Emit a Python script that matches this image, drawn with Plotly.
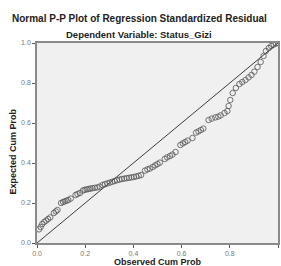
import plotly.graph_objects as go

observed = [0.008, 0.015, 0.022, 0.030, 0.038, 0.046, 0.055, 0.070, 0.078, 0.085,
            0.100, 0.108, 0.115, 0.123, 0.130, 0.140, 0.160, 0.168, 0.178, 0.190,
            0.198, 0.206, 0.214, 0.222, 0.230, 0.240, 0.250, 0.260, 0.272, 0.282,
            0.292, 0.302, 0.312, 0.322, 0.332, 0.342, 0.352, 0.362, 0.372, 0.382,
            0.392, 0.402, 0.412, 0.422, 0.432, 0.448, 0.458, 0.468, 0.480, 0.490,
            0.500, 0.510, 0.530, 0.540, 0.552, 0.562, 0.575, 0.595, 0.605, 0.615,
            0.625, 0.645, 0.660, 0.670, 0.680, 0.690, 0.712, 0.725, 0.740, 0.752,
            0.762, 0.778, 0.790, 0.795, 0.802, 0.812, 0.825, 0.840, 0.852, 0.865,
            0.878, 0.890, 0.902, 0.915, 0.928, 0.940, 0.950, 0.962, 0.972, 0.982,
            0.992, 1.000]
expected = [0.068, 0.080, 0.095, 0.105, 0.112, 0.120, 0.128, 0.150, 0.158, 0.165,
            0.200, 0.205, 0.208, 0.212, 0.215, 0.222, 0.240, 0.245, 0.250, 0.262,
            0.266, 0.268, 0.270, 0.272, 0.274, 0.276, 0.278, 0.282, 0.290, 0.294,
            0.298, 0.302, 0.306, 0.310, 0.314, 0.317, 0.320, 0.322, 0.324, 0.326,
            0.328, 0.330, 0.333, 0.336, 0.340, 0.362, 0.368, 0.372, 0.380, 0.388,
            0.395, 0.402, 0.420, 0.428, 0.435, 0.442, 0.455, 0.490, 0.498, 0.505,
            0.512, 0.525, 0.552, 0.558, 0.565, 0.572, 0.615, 0.622, 0.628, 0.632,
            0.638, 0.650, 0.660, 0.685, 0.715, 0.750, 0.775, 0.795, 0.805, 0.815,
            0.828, 0.840, 0.857, 0.880, 0.905, 0.935, 0.960, 0.975, 0.985, 0.992,
            0.998, 1.000]
ref_line = [0.0, 1.0]
tick_vals = [0.0, 0.2, 0.4, 0.6, 0.8, 1.0]
tick_text = ["0.0", "0.2", "0.4", "0.6", "0.8", "1.0"]

fig = go.Figure()
fig.add_trace(go.Scatter(x=ref_line, y=ref_line, mode="lines",
                         line=dict(color="#3c3c3c", width=1), hoverinfo="skip"))
fig.add_trace(go.Scatter(x=observed, y=expected, mode="markers",
                         marker=dict(symbol="circle-open", size=5.5,
                                     color="#555555", line=dict(width=0.8))))

axis_common = dict(range=[0, 1], tickvals=tick_vals, ticktext=tick_text,
                   showgrid=False, zeroline=False, showline=True, mirror=True,
                   linecolor="#8a8a8a", linewidth=1.5, ticks="outside",
                   ticklen=3, tickcolor="#555555", automargin=False,
                   tickfont=dict(family="Arial", size=7, color="#777777"))

title_font = dict(family="Arial", size=9, color="#222222")

fig.update_layout(
    width=281, height=266,
    margin=dict(l=37, r=3, t=43, b=23),
    paper_bgcolor="white", plot_bgcolor="#f0f0f0",
    showlegend=False,
    xaxis=dict(**axis_common),
    yaxis=dict(**axis_common),
    annotations=[
        dict(text="<b>Normal P-P Plot of Regression Standardized Residual</b>",
             xref="paper", yref="paper", x=0.427, y=1.12, showarrow=False,
             xanchor="center", yanchor="middle",
             font=dict(family="Arial", size=10, color="#222222")),
        dict(text="<b>Dependent Variable: Status_Gizi</b>",
             xref="paper", yref="paper", x=0.425, y=1.045, showarrow=False,
             xanchor="center", yanchor="middle",
             font=dict(family="Arial", size=9.5, color="#222222")),
        dict(text="<b>Observed Cum Prob</b>",
             xref="paper", yref="paper", x=0.5, y=-0.095, showarrow=False,
             xanchor="center", yanchor="middle", font=title_font),
        dict(text="<b>Expected Cum Prob</b>",
             xref="paper", yref="paper", x=-0.1, y=0.4575, showarrow=False,
             xanchor="center", yanchor="middle", textangle=-90, font=title_font),
    ],
)

fig.write_html("out.html", config={"displayModeBar": False})

with open("out.html", "r", encoding="utf-8") as f:
    html = f.read()
html = html.replace("<body>", '<body style="margin:0;padding:0;overflow:hidden">', 1)
with open("out.html", "w", encoding="utf-8") as f:
    f.write(html)
